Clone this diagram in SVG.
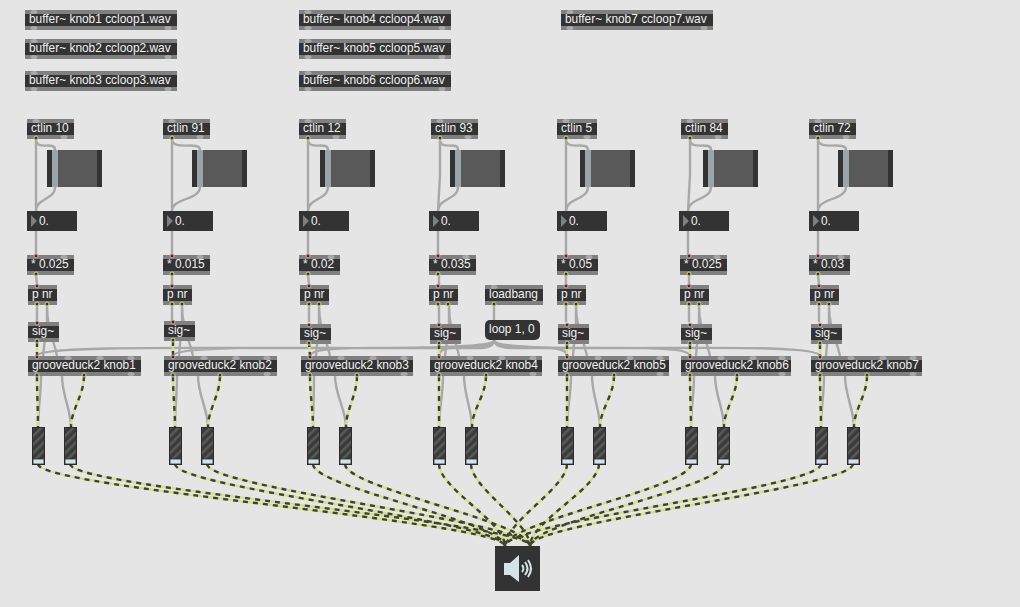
<svg xmlns="http://www.w3.org/2000/svg" xmlns:xlink="http://www.w3.org/1999/xlink" width="1020" height="607" viewBox="0 0 1020 607">
<style>
text{font-family:"Liberation Sans",Arial,sans-serif;font-size:11.9px;fill:#f0f0f0}
.o{fill:#808080}.d{fill:#333}
.w{fill:none;stroke:#a8a8a8;stroke-width:2.4}
.sa{fill:none;stroke:#d2e384;stroke-width:2.4}
.sb{fill:none;stroke:#40403a;stroke-width:2.4;stroke-dasharray:5 5}
</style>
<defs>
<circle id="po" r="2" fill="#333" stroke="#d6d77c"/>
<circle id="pi" r="2" fill="#333" stroke="#d9a79c"/>
<ellipse id="b" rx="3.5" ry="2" fill="#a8a8a8"/>
<pattern id="h" width="6" height="6" patternUnits="userSpaceOnUse" patternTransform="rotate(45)"><rect width="6" height="6" fill="#3a3a3a"/><rect width="2.5" height="6" fill="#5a5a5a"/></pattern>
<g id="sl"><rect width="55" height="37" fill="#595959"/><rect width="5" height="37" fill="#333"/><rect x="50" width="5" height="37" fill="#333"/><rect x="5" width="6" height="37" fill="#9aa5a8"/></g>
<g id="nb"><rect width="50" height="20" fill="#333"/><path d="M4 4L10 10L4 16Z" fill="#808080"/><text x="12" y="14">0.</text></g>
<g id="mt"><rect x=".5" y=".5" width="12" height="37" fill="url(#h)" stroke="#2b2b2b"/><rect x="1" y="32" width="11" height="5" fill="#d3e3e8" stroke="#2b2b2b" stroke-width=".8"/></g>
<g id="sw">
<path d="M38 464C38 488 505 522 505 546M70 464C70 488 530 522 530 546"/>
<path d="M175 464C175 488 505 522 505 546M207 464C207 488 530 522 530 546"/>
<path d="M313 464C313 488 505 522 505 546M345 464C345 488 530 522 530 546"/>
<path d="M439 464C439 488 505 522 505 546M471 464C471 488 530 522 530 546"/>
<path d="M567 464C567 488 505 522 505 546M599 464C599 488 530 522 530 546"/>
<path d="M691 464C691 488 505 522 505 546M723 464C723 488 530 522 530 546"/>
<path d="M821 464C821 488 505 522 505 546M853 464C853 488 530 522 530 546"/>
<path d="M37 376C37 395 38 410 38 427M84 376C84 395 71 410 71 427"/>
<path d="M173 376C173 395 175 410 175 427M220 376C220 395 208 410 208 427"/>
<path d="M310 376C310 395 313 410 313 427M357 376C357 395 346 410 346 427"/>
<path d="M439 376C439 395 439 410 439 427M486 376C486 395 472 410 472 427"/>
<path d="M567 376C567 395 567 410 567 427M614 376C614 395 600 410 600 427"/>
<path d="M690 376C690 395 691 410 691 427M737 376C737 395 724 410 724 427"/>
<path d="M820 376C820 395 821 410 821 427M867 376C867 395 854 410 854 427"/>
<path d="M37 342V356M173 341V356M309 342L310 356M439 344V356M567 344V356M690 344V356M820 344V356"/>
</g>
</defs>
<rect width="1020" height="607" fill="#e5e5e5"/>
<g id="connectors">
<g class="w">
<path d="M36 139V211M36 139C36 152 55 140 55 150V187C55 200 36 198 36 211M36 231V255M36 275L37 285M37 305V322M47 305V322L43 356M47 305C47 330 54 340 57 356M41 376C41 395 38 410 38 427M62 376C62 395 71 410 71 427"/>
<path d="M172 139V211M172 139C172 152 200 140 200 150V187C200 200 172 198 172 211M172 231V255M172 275V285M172 305V321M182 305V321L179 356M182 305C182 330 190 340 193 356M177 376C177 395 175 410 175 427M198 376C198 395 208 410 208 427"/>
<path d="M308 139V211M308 139C308 152 328 140 328 150V187C328 200 308 198 308 211M308 231V255M308 275L309 285M309 305V322M319 305V322L316 356M319 305C319 330 327 340 330 356M314 376C314 395 313 410 313 427M335 376C335 395 346 410 346 427"/>
<path d="M440 139V175L438 211M440 139C440 152 458 140 458 150V187C458 200 438 198 438 211M438 231V255M439 275V285M439 305V324M449 305V324L445 356M449 305C449 330 456 340 459 356M443 376C443 395 439 410 439 427M464 376C464 395 472 410 472 427"/>
<path d="M566 139V211M566 139C566 152 588 140 588 150V187C588 200 566 198 566 211M566 231V255M566 275V285M566 305V322M576 305V322L573 356M576 305C576 330 584 340 587 356M571 376C571 395 567 410 567 427M592 376C592 395 600 410 600 427"/>
<path d="M690 139V175L688 211M690 139C690 152 711 140 711 150V187C711 200 688 198 688 211M688 231V255M689 275V285M689 305V322M699 305V322L696 356M699 305C699 330 707 340 710 356M694 376C694 395 691 410 691 427M715 376C715 395 724 410 724 427"/>
<path d="M818 139V211M818 139C818 152 846 140 846 150V187C846 200 818 198 818 211M818 231V255M818 275L819 285M819 305V322M829 305V322L826 356M829 305C829 330 837 340 840 356M824 376C824 395 821 410 821 427M845 376C845 395 854 410 854 427"/>
<path d="M494 305V320M494 340C494 358 37 338 37 356M494 340C494 358 173 338 173 356M494 340C494 358 310 338 310 356M494 340C494 358 439 338 439 356M494 340C494 358 567 338 567 356M494 340C494 358 690 338 690 356M494 340C494 358 820 338 820 356"/>
</g>
<use href="#sw" class="sa"/>
<use href="#sw" class="sb"/>
</g>
<g id="buffer1" transform="translate(25 10)"><rect class="o" width="152" height="20"/><rect class="d" y="4" width="152" height="12"/><text x="4" y="13">buffer~ knob1 ccloop1.wav</text><use href="#b" x="9" y="2"/><use href="#b" x="9" y="18"/><use href="#b" x="143" y="18"/></g>
<g id="buffer2" transform="translate(25 39)"><rect class="o" width="152" height="20"/><rect class="d" y="4" width="152" height="12"/><text x="4" y="13">buffer~ knob2 ccloop2.wav</text><use href="#b" x="9" y="2"/><use href="#b" x="9" y="18"/><use href="#b" x="143" y="18"/></g>
<g id="buffer3" transform="translate(25 71)"><rect class="o" width="152" height="20"/><rect class="d" y="4" width="152" height="12"/><text x="4" y="13">buffer~ knob3 ccloop3.wav</text><use href="#b" x="9" y="2"/><use href="#b" x="9" y="18"/><use href="#b" x="143" y="18"/></g>
<g id="buffer4" transform="translate(299 10)"><rect class="o" width="152" height="20"/><rect class="d" y="4" width="152" height="12"/><text x="4" y="13">buffer~ knob4 ccloop4.wav</text><use href="#b" x="9" y="2"/><use href="#b" x="9" y="18"/><use href="#b" x="143" y="18"/></g>
<g id="buffer5" transform="translate(299 39)"><rect class="o" width="152" height="20"/><rect class="d" y="4" width="152" height="12"/><text x="4" y="13">buffer~ knob5 ccloop5.wav</text><use href="#b" x="9" y="2"/><use href="#b" x="9" y="18"/><use href="#b" x="143" y="18"/></g>
<g id="buffer6" transform="translate(299 71)"><rect class="o" width="152" height="20"/><rect class="d" y="4" width="152" height="12"/><text x="4" y="13">buffer~ knob6 ccloop6.wav</text><use href="#b" x="9" y="2"/><use href="#b" x="9" y="18"/><use href="#b" x="143" y="18"/></g>
<g id="buffer7" transform="translate(561 10)"><rect class="o" width="152" height="20"/><rect class="d" y="4" width="152" height="12"/><text x="4" y="13">buffer~ knob7 ccloop7.wav</text><use href="#b" x="9" y="2"/><use href="#b" x="9" y="18"/><use href="#b" x="143" y="18"/></g>

<g id="ctlin1" transform="translate(27 119)"><rect class="o" width="47" height="20"/><rect class="d" y="4" width="47" height="12"/><text x="4" y="13">ctlin 10</text><use href="#b" x="9" y="2"/><use href="#b" x="37" y="18"/><use href="#po" x="9" y="19"/></g>
<g id="ctlin2" transform="translate(163 119)"><rect class="o" width="47" height="20"/><rect class="d" y="4" width="47" height="12"/><text x="4" y="13">ctlin 91</text><use href="#b" x="9" y="2"/><use href="#b" x="37" y="18"/><use href="#po" x="9" y="19"/></g>
<g id="ctlin3" transform="translate(299 119)"><rect class="o" width="47" height="20"/><rect class="d" y="4" width="47" height="12"/><text x="4" y="13">ctlin 12</text><use href="#b" x="9" y="2"/><use href="#b" x="37" y="18"/><use href="#po" x="9" y="19"/></g>
<g id="ctlin4" transform="translate(431 119)"><rect class="o" width="47" height="20"/><rect class="d" y="4" width="47" height="12"/><text x="4" y="13">ctlin 93</text><use href="#b" x="9" y="2"/><use href="#b" x="37" y="18"/><use href="#po" x="9" y="19"/></g>
<g id="ctlin5" transform="translate(557 119)"><rect class="o" width="40" height="20"/><rect class="d" y="4" width="40" height="12"/><text x="4" y="13">ctlin 5</text><use href="#b" x="9" y="2"/><use href="#b" x="30" y="18"/><use href="#po" x="9" y="19"/></g>
<g id="ctlin6" transform="translate(681 119)"><rect class="o" width="47" height="20"/><rect class="d" y="4" width="47" height="12"/><text x="4" y="13">ctlin 84</text><use href="#b" x="9" y="2"/><use href="#b" x="37" y="18"/><use href="#po" x="9" y="19"/></g>
<g id="ctlin7" transform="translate(809 119)"><rect class="o" width="47" height="20"/><rect class="d" y="4" width="47" height="12"/><text x="4" y="13">ctlin 72</text><use href="#b" x="9" y="2"/><use href="#b" x="37" y="18"/><use href="#po" x="9" y="19"/></g>

<g id="slider1" transform="translate(47 150)"><use href="#sl"/></g>
<g id="slider2" transform="translate(192 150)"><use href="#sl"/></g>
<g id="slider3" transform="translate(320 150)"><use href="#sl"/></g>
<g id="slider4" transform="translate(450 150)"><use href="#sl"/></g>
<g id="slider5" transform="translate(580 150)"><use href="#sl"/></g>
<g id="slider6" transform="translate(703 150)"><use href="#sl"/></g>
<g id="slider7" transform="translate(838 150)"><use href="#sl"/></g>

<g id="number1" transform="translate(27 211)"><use href="#nb"/></g>
<g id="number2" transform="translate(163 211)"><use href="#nb"/></g>
<g id="number3" transform="translate(299 211)"><use href="#nb"/></g>
<g id="number4" transform="translate(429 211)"><use href="#nb"/></g>
<g id="number5" transform="translate(557 211)"><use href="#nb"/></g>
<g id="number6" transform="translate(679 211)"><use href="#nb"/></g>
<g id="number7" transform="translate(809 211)"><use href="#nb"/></g>

<g id="mult1" transform="translate(27 255)"><rect class="o" width="47" height="20"/><rect class="d" y="4" width="47" height="12"/><text x="4" y="13">* 0.025</text><use href="#pi" x="9" y="1"/><use href="#b" x="37" y="2"/><use href="#po" x="9" y="19"/></g>
<g id="mult2" transform="translate(163 255)"><rect class="o" width="47" height="20"/><rect class="d" y="4" width="47" height="12"/><text x="4" y="13">* 0.015</text><use href="#pi" x="9" y="1"/><use href="#b" x="37" y="2"/><use href="#po" x="9" y="19"/></g>
<g id="mult3" transform="translate(299 255)"><rect class="o" width="41" height="20"/><rect class="d" y="4" width="41" height="12"/><text x="4" y="13">* 0.02</text><use href="#pi" x="9" y="1"/><use href="#b" x="32" y="2"/><use href="#po" x="9" y="19"/></g>
<g id="mult4" transform="translate(429 255)"><rect class="o" width="47" height="20"/><rect class="d" y="4" width="47" height="12"/><text x="4" y="13">* 0.035</text><use href="#pi" x="9" y="1"/><use href="#b" x="37" y="2"/><use href="#po" x="9" y="19"/></g>
<g id="mult5" transform="translate(557 255)"><rect class="o" width="41" height="20"/><rect class="d" y="4" width="41" height="12"/><text x="4" y="13">* 0.05</text><use href="#pi" x="9" y="1"/><use href="#b" x="32" y="2"/><use href="#po" x="9" y="19"/></g>
<g id="mult6" transform="translate(680 255)"><rect class="o" width="47" height="20"/><rect class="d" y="4" width="47" height="12"/><text x="4" y="13">* 0.025</text><use href="#pi" x="9" y="1"/><use href="#b" x="37" y="2"/><use href="#po" x="9" y="19"/></g>
<g id="mult7" transform="translate(809 255)"><rect class="o" width="41" height="20"/><rect class="d" y="4" width="41" height="12"/><text x="4" y="13">* 0.03</text><use href="#pi" x="9" y="1"/><use href="#b" x="32" y="2"/><use href="#po" x="9" y="19"/></g>

<g id="pnr1" transform="translate(28 285)"><rect class="o" width="29" height="20"/><rect class="d" y="4" width="29" height="12"/><text x="4" y="13">p nr</text><use href="#pi" x="9" y="1"/><use href="#po" x="9" y="19"/><use href="#po" x="19" y="19"/></g>
<g id="pnr2" transform="translate(163 285)"><rect class="o" width="29" height="20"/><rect class="d" y="4" width="29" height="12"/><text x="4" y="13">p nr</text><use href="#pi" x="9" y="1"/><use href="#po" x="9" y="19"/><use href="#po" x="19" y="19"/></g>
<g id="pnr3" transform="translate(300 285)"><rect class="o" width="29" height="20"/><rect class="d" y="4" width="29" height="12"/><text x="4" y="13">p nr</text><use href="#pi" x="9" y="1"/><use href="#po" x="9" y="19"/><use href="#po" x="19" y="19"/></g>
<g id="pnr4" transform="translate(429 285)"><rect class="o" width="29" height="20"/><rect class="d" y="4" width="29" height="12"/><text x="4" y="13">p nr</text><use href="#pi" x="9" y="1"/><use href="#po" x="9" y="19"/><use href="#po" x="19" y="19"/></g>
<g id="pnr5" transform="translate(557 285)"><rect class="o" width="29" height="20"/><rect class="d" y="4" width="29" height="12"/><text x="4" y="13">p nr</text><use href="#pi" x="9" y="1"/><use href="#po" x="9" y="19"/><use href="#po" x="19" y="19"/></g>
<g id="pnr6" transform="translate(680 285)"><rect class="o" width="29" height="20"/><rect class="d" y="4" width="29" height="12"/><text x="4" y="13">p nr</text><use href="#pi" x="9" y="1"/><use href="#po" x="9" y="19"/><use href="#po" x="19" y="19"/></g>
<g id="pnr7" transform="translate(810 285)"><rect class="o" width="29" height="20"/><rect class="d" y="4" width="29" height="12"/><text x="4" y="13">p nr</text><use href="#pi" x="9" y="1"/><use href="#po" x="9" y="19"/><use href="#po" x="19" y="19"/></g>

<g id="sig1" transform="translate(28 322)"><rect class="o" width="31" height="20"/><rect class="d" y="4" width="31" height="12"/><text x="4" y="13">sig~</text><use href="#pi" x="9" y="1"/><use href="#po" x="9" y="19"/></g>
<g id="sig2" transform="translate(164 321)"><rect class="o" width="31" height="20"/><rect class="d" y="4" width="31" height="12"/><text x="4" y="13">sig~</text><use href="#pi" x="9" y="1"/><use href="#po" x="9" y="19"/></g>
<g id="sig3" transform="translate(300 324)"><rect class="o" width="31" height="20"/><rect class="d" y="4" width="31" height="12"/><text x="4" y="13">sig~</text><use href="#pi" x="9" y="1"/><use href="#po" x="9" y="19"/></g>
<g id="sig4" transform="translate(430 324)"><rect class="o" width="31" height="20"/><rect class="d" y="4" width="31" height="12"/><text x="4" y="13">sig~</text><use href="#pi" x="9" y="1"/><use href="#po" x="9" y="19"/></g>
<g id="sig5" transform="translate(558 324)"><rect class="o" width="31" height="20"/><rect class="d" y="4" width="31" height="12"/><text x="4" y="13">sig~</text><use href="#pi" x="9" y="1"/><use href="#po" x="9" y="19"/></g>
<g id="sig6" transform="translate(681 324)"><rect class="o" width="31" height="20"/><rect class="d" y="4" width="31" height="12"/><text x="4" y="13">sig~</text><use href="#pi" x="9" y="1"/><use href="#po" x="9" y="19"/></g>
<g id="sig7" transform="translate(811 324)"><rect class="o" width="31" height="20"/><rect class="d" y="4" width="31" height="12"/><text x="4" y="13">sig~</text><use href="#pi" x="9" y="1"/><use href="#po" x="9" y="19"/></g>

<g id="loadbang" transform="translate(485 285)"><rect class="o" width="58" height="20"/><rect class="d" y="4" width="58" height="12"/><text x="4" y="13">loadbang</text><use href="#b" x="9" y="2"/><use href="#po" x="9" y="19"/></g>
<g id="loop" transform="translate(485 320)"><rect class="d" width="55" height="20" rx="5"/><text x="4" y="13">loop 1, 0</text></g>

<g id="groove1" transform="translate(28 356)"><rect class="o" width="113" height="20"/><rect class="d" y="4" width="113" height="12"/><text x="4" y="13">grooveduck2 knob1</text><use href="#pi" x="9" y="1"/><use href="#po" x="9" y="19"/><use href="#po" x="56" y="19"/><use href="#b" x="40" y="2"/><use href="#b" x="72" y="2"/><use href="#b" x="103" y="2"/><use href="#b" x="103" y="18"/></g>
<g id="groove2" transform="translate(164 356)"><rect class="o" width="113" height="20"/><rect class="d" y="4" width="113" height="12"/><text x="4" y="13">grooveduck2 knob2</text><use href="#pi" x="9" y="1"/><use href="#po" x="9" y="19"/><use href="#po" x="56" y="19"/><use href="#b" x="40" y="2"/><use href="#b" x="72" y="2"/><use href="#b" x="103" y="2"/><use href="#b" x="103" y="18"/></g>
<g id="groove3" transform="translate(301 356)"><rect class="o" width="112" height="20"/><rect class="d" y="4" width="112" height="12"/><text x="4" y="13">grooveduck2 knob3</text><use href="#pi" x="9" y="1"/><use href="#po" x="9" y="19"/><use href="#po" x="56" y="19"/><use href="#b" x="40" y="2"/><use href="#b" x="72" y="2"/><use href="#b" x="103" y="2"/><use href="#b" x="103" y="18"/></g>
<g id="groove4" transform="translate(430 356)"><rect class="o" width="112" height="20"/><rect class="d" y="4" width="112" height="12"/><text x="4" y="13">grooveduck2 knob4</text><use href="#pi" x="9" y="1"/><use href="#po" x="9" y="19"/><use href="#po" x="56" y="19"/><use href="#b" x="40" y="2"/><use href="#b" x="72" y="2"/><use href="#b" x="103" y="2"/><use href="#b" x="103" y="18"/></g>
<g id="groove5" transform="translate(558 356)"><rect class="o" width="111" height="20"/><rect class="d" y="4" width="111" height="12"/><text x="4" y="13">grooveduck2 knob5</text><use href="#pi" x="9" y="1"/><use href="#po" x="9" y="19"/><use href="#po" x="56" y="19"/><use href="#b" x="40" y="2"/><use href="#b" x="72" y="2"/><use href="#b" x="102" y="2"/><use href="#b" x="102" y="18"/></g>
<g id="groove6" transform="translate(681 356)"><rect class="o" width="110" height="20"/><rect class="d" y="4" width="110" height="12"/><text x="4" y="13">grooveduck2 knob6</text><use href="#pi" x="9" y="1"/><use href="#po" x="9" y="19"/><use href="#po" x="56" y="19"/><use href="#b" x="40" y="2"/><use href="#b" x="72" y="2"/><use href="#b" x="101" y="2"/><use href="#b" x="101" y="18"/></g>
<g id="groove7" transform="translate(811 356)"><rect class="o" width="111" height="20"/><rect class="d" y="4" width="111" height="12"/><text x="4" y="13">grooveduck2 knob7</text><use href="#pi" x="9" y="1"/><use href="#po" x="9" y="19"/><use href="#po" x="56" y="19"/><use href="#b" x="40" y="2"/><use href="#b" x="72" y="2"/><use href="#b" x="102" y="2"/><use href="#b" x="102" y="18"/></g>

<g id="meter1a" transform="translate(32 427)"><use href="#mt"/></g><g id="meter1b" transform="translate(64 427)"><use href="#mt"/></g>
<g id="meter2a" transform="translate(169 427)"><use href="#mt"/></g><g id="meter2b" transform="translate(201 427)"><use href="#mt"/></g>
<g id="meter3a" transform="translate(307 427)"><use href="#mt"/></g><g id="meter3b" transform="translate(339 427)"><use href="#mt"/></g>
<g id="meter4a" transform="translate(433 427)"><use href="#mt"/></g><g id="meter4b" transform="translate(465 427)"><use href="#mt"/></g>
<g id="meter5a" transform="translate(561 427)"><use href="#mt"/></g><g id="meter5b" transform="translate(593 427)"><use href="#mt"/></g>
<g id="meter6a" transform="translate(685 427)"><use href="#mt"/></g><g id="meter6b" transform="translate(717 427)"><use href="#mt"/></g>
<g id="meter7a" transform="translate(815 427)"><use href="#mt"/></g><g id="meter7b" transform="translate(847 427)"><use href="#mt"/></g>

<g id="dac" transform="translate(495 546)"><rect width="45" height="45" fill="#333"/><path d="M9 17H15L24 9V36L15 29H9Z" fill="#d3e3e8"/><path d="M27 19Q30 22.500 27 26M30 16Q35 22.500 30 29M33 14Q39 22.500 33 31" fill="none" stroke="#d3e3e8" stroke-width="2"/></g>
</svg>
